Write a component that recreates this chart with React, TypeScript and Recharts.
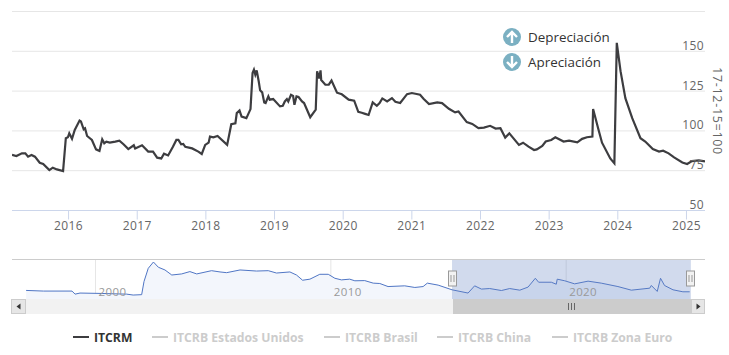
import React from "react";
import { ComposedChart, Line, Area, XAxis, YAxis, CartesianGrid, ReferenceArea } from "recharts";

const FONT = '"Open Sans", sans-serif';

const mainYears = [2015.176,2015.24,2015.32,2015.37,2015.41,2015.46,2015.51,2015.58,2015.63,2015.72,2015.77,2015.83,2015.92,2015.96,2015.99,2016.01,2016.05,2016.09,2016.16,2016.18,2016.22,2016.24,2016.27,2016.34,2016.4,2016.45,2016.49,2016.52,2016.55,2016.6,2016.68,2016.74,2016.8,2016.87,2016.95,2016.97,2017.07,2017.16,2017.23,2017.29,2017.35,2017.39,2017.45,2017.52,2017.57,2017.6,2017.64,2017.67,2017.7,2017.8,2017.89,2017.94,2017.99,2018.04,2018.06,2018.11,2018.17,2018.31,2018.37,2018.43,2018.45,2018.49,2018.52,2018.59,2018.65,2018.68,2018.7,2018.72,2018.74,2018.77,2018.79,2018.82,2018.85,2018.87,2018.91,2018.93,2018.98,2019.08,2019.12,2019.15,2019.18,2019.2,2019.24,2019.27,2019.29,2019.32,2019.35,2019.4,2019.43,2019.52,2019.6,2019.62,2019.65,2019.67,2019.68,2019.74,2019.79,2019.83,2019.91,2019.98,2020.08,2020.16,2020.22,2020.27,2020.32,2020.37,2020.43,2020.49,2020.53,2020.57,2020.64,2020.71,2020.76,2020.83,2020.93,2021,2021.12,2021.17,2021.25,2021.37,2021.44,2021.54,2021.63,2021.68,2021.8,2021.88,2021.97,2022.05,2022.14,2022.22,2022.29,2022.36,2022.42,2022.56,2022.62,2022.7,2022.78,2022.82,2022.9,2022.95,2023.03,2023.09,2023.21,2023.29,2023.41,2023.48,2023.55,2023.63,2023.64,2023.72,2023.77,2023.89,2023.95,2023.985,2024.04,2024.11,2024.21,2024.33,2024.4,2024.51,2024.6,2024.66,2024.74,2024.82,2024.94,2025.01,2025.08,2025.18,2025.27];
const mainValues = [84.9,84.2,85.9,85.9,83.8,84.9,83.8,80,79.2,75.4,76.9,75.8,74.8,95.4,96,98.5,95,100.6,106.5,105.9,101,101.6,96.8,94.3,88.4,87.4,94.7,92.2,93.2,92.6,93.3,93.9,91.6,88.6,91,89,91,87,87,83.2,82.7,85.7,84.6,90,94.3,94.3,91.6,91.8,90,89,87,85.5,91.2,92.6,96.4,96,96.8,91.2,104.2,104.8,111.2,112.8,109,108,113.7,136.4,138.5,135.3,138,131,125.5,124.2,117.9,117.5,121.7,119.6,120,115.4,115.8,118.5,120,118.5,122.7,122,116.4,121.7,121.3,118.5,117.5,108.6,113.3,137.5,133,138,132,129,129,131.6,124,123,119.6,119,112,111.4,110.7,110,117.9,115.8,117.5,120.4,118.5,120.6,118.3,117.5,123.1,123.8,122.7,120.2,116.8,117.9,117.5,113.9,111.6,112.2,105.5,104.4,101.7,102.1,103.2,101.5,101.7,95.8,98.5,91.2,92.6,90.1,88,88.4,90.5,93.3,94.3,96,93.3,93.9,92.8,95,96,96.4,113.7,100.6,92.6,82.7,79.6,155.3,137.5,120.6,108,95.4,93.3,88.6,87,87.6,85.9,83.4,80.2,79.2,81,81.5,80.8];

const mainYTicks = [50, 75, 100, 125, 150, 175];
const mainXTicks = [2016, 2017, 2018, 2019, 2020, 2021, 2022, 2023, 2024, 2025];

const navYears = [1997.05,1997.79,1999,1999.13,1999.34,2000.19,2001.32,2001.6,2001.96,2002.06,2002.24,2002.46,2002.67,2002.95,2003.24,2003.66,2004.01,2004.3,2004.93,2005.29,2005.57,2006.14,2006.84,2007.34,2007.69,2008.26,2008.54,2008.8,2009.11,2009.53,2009.89,2010.17,2010.45,2010.8,2011.02,2011.44,2011.8,2012.08,2012.43,2013.14,2013.57,2013.92,2014.1,2014.56,2015.15,2015.83,2016.11,2016.4,2016.75,2017.25,2017.6,2018.03,2018.38,2018.69,2018.83,2019.37,2019.58,2019.62,2019.94,2020.36,2020.93,2021.49,2022.2,2022.77,2023.55,2023.62,2023.87,2024.01,2024.18,2024.54,2024.96,2025.25];
const navValues = [84.5,81,81,64,70,68,64,59,61,134,207,242,213,198,170,176,189,176,194,187,183,198,192,194,181,187,170,141,147,174,174,152,143,147,138,139,125,123,106,110,101,106,125,114,88,70,110,92,95,84,95,86,103,152,130,130,119,147,138,121,136,125,106,86,97,112,79,152,112,88,77,77];
const navXTicks = [2000, 2010, 2020];
const selectedRange = [2015.15, 2025.3];

const legendNames = ["ITCRM", "ITCRB Estados Unidos", "ITCRB Brasil", "ITCRB China", "ITCRB Zona Euro"];
const legendLineX = [73, 152, 324, 437, 552];
const notes = ["Depreciación", "Apreciación"];
const yTitle = "17-12-15=100";

const mainData = mainYears.map((year, i) => ({ year, value: mainValues[i] }));
const navData = navYears.map((year, i) => ({ year, value: navValues[i] }));

const renderRightTick = (props: any) => {
  const { y, payload } = props;
  if (payload.value === 175) return <g />;
  return (
    <text x={704} y={y - 1.5} textAnchor="end" fontFamily={FONT} fontSize={12} fill="#666666" letterSpacing={0.4}>
      {payload.value}
    </text>
  );
};

const renderNavTick = (props: any) => {
  const { x, payload } = props;
  return (
    <text x={x + 3} y={295.5} fontFamily={FONT} fontSize={11.5} fill="#999999" letterSpacing={0.4}>
      {payload.value}
    </text>
  );
};

const Handle = ({ x }: { x: number }) => (
  <g>
    <rect x={x - 4} y={271} width={8} height={15} fill="#f2f2f2" stroke="#999999" />
    <path d={`M${x - 1.5} 275V282M${x + 1.5} 275V282`} stroke="#999999" fill="none" />
  </g>
);

const Note = ({ y, up, text }: { y: number; up: boolean; text: string }) => (
  <g>
    <circle cx={512} cy={y} r={9} fill="#7bb0c2" />
    <path
      d={up ? `M512 ${y + 6}V${y - 5}M507 ${y}L512 ${y - 5}L517 ${y}` : `M512 ${y - 6}V${y + 5}M507 ${y}L512 ${y + 5}L517 ${y}`}
      stroke="#ffffff"
      strokeWidth={2.4}
      fill="none"
    />
    <text x={528} y={y + 4.5} fontFamily={FONT} fontSize={13.4} fill="#333333">
      {text}
    </text>
  </g>
);

export default function App() {
  return (
    <div style={{ position: "absolute", left: 0, top: 0, width: 729, height: 355, background: "#ffffff", overflow: "hidden" }}>
      <div style={{ position: "absolute", left: 0, top: 0 }}>
        <ComposedChart width={729} height={250} data={mainData} margin={{ top: 11.5, right: 23, bottom: 0, left: 12 }}>
          <CartesianGrid horizontal vertical={false} stroke="#e6e6e6" />
          <XAxis
            dataKey="year"
            type="number"
            domain={[2015.176, 2025.27]}
            ticks={mainXTicks}
            height={39.5}
            interval={0}
            allowDataOverflow
            stroke="#ccd6eb"
            tickSize={9}
            tick={{ fill: "#666666", fontSize: 12, fontFamily: FONT, letterSpacing: 0.4 }}
            tickMargin={2}
          />
          <YAxis
            type="number"
            orientation="right"
            domain={[50, 175]}
            ticks={mainYTicks}
            width={1}
            axisLine={false}
            tickLine={false}
            tick={renderRightTick}
            interval={0}
            allowDataOverflow
          />
          <Line
            dataKey="value"
            type="linear"
            stroke="#3d3d40"
            strokeWidth={2.2}
            dot={false}
            isAnimationActive={false}
          />
        </ComposedChart>
      </div>

      <div style={{ position: "absolute", left: 0, top: 0 }}>
        <ComposedChart width={729} height={300} data={navData} margin={{ top: 259.5, right: 24, bottom: 0, left: 12 }}>
          <CartesianGrid horizontal={false} vertical stroke="#e6e6e6" verticalValues={navXTicks} />
          <XAxis
            dataKey="year"
            type="number"
            domain={[1996.45, 2025.9]}
            ticks={navXTicks}
            height={1}
            axisLine={false}
            tickLine={false}
            tick={renderNavTick}
            interval={0}
            allowDataOverflow
          />
          <YAxis type="number" domain={[37, 256]} hide allowDataOverflow />
          <Area
            dataKey="value"
            type="linear"
            stroke="#4f75c4"
            strokeWidth={1}
            fill="#f3f6fc"
            fillOpacity={1}
            dot={false}
            isAnimationActive={false}
          />
          <ReferenceArea
            x1={selectedRange[0]}
            x2={selectedRange[1]}
            fill="#6685c2"
            fillOpacity={0.3}
            stroke="none"
            ifOverflow="visible"
          />
        </ComposedChart>
      </div>

      <svg width={729} height={355} style={{ position: "absolute", left: 0, top: 0, pointerEvents: "none" }}>
        <Note y={37} up text={notes[0]} />
        <Note y={62} up={false} text={notes[1]} />
        <text
          transform="translate(713,111) rotate(90)"
          textAnchor="middle"
          fontFamily={FONT}
          fontSize={12.5}
          fill="#666666"
          letterSpacing={0.7}
        >
          {yTitle}
        </text>

        <line x1={12} x2={705} y1={259.5} y2={259.5} stroke="#cccccc" />
        <rect x={12} y={299} width={693} height={15} fill="#f2f2f2" />
        <rect x={453} y={299} width={238} height={15} fill="#cccccc" />
        <path d="M568.5 303V310M571.5 303V310M574.5 303V310" stroke="#666666" fill="none" />
        <rect x={11.5} y={299.5} width={14} height={14} fill="#e6e6e6" stroke="#cccccc" />
        <path d="M20.5 303.5L16.5 306.5L20.5 309.5Z" fill="#333333" />
        <rect x={691.5} y={299.5} width={13} height={14} fill="#e6e6e6" stroke="#cccccc" />
        <path d="M696.5 303.5L700.5 306.5L696.5 309.5Z" fill="#333333" />
        <Handle x={452.5} />
        <Handle x={690.5} />

        {legendNames.map((name, i) => (
          <g key={name}>
            <line
              x1={legendLineX[i]}
              x2={legendLineX[i] + 16}
              y1={337}
              y2={337}
              stroke={i === 0 ? "#3d3d40" : "#cccccc"}
              strokeWidth={2}
            />
            <text
              x={legendLineX[i] + 21}
              y={341.5}
              fontFamily={FONT}
              fontSize={12.2}
              fontWeight={700}
              fill={i === 0 ? "#333333" : "#cccccc"}
            >
              {name}
            </text>
          </g>
        ))}
      </svg>
    </div>
  );
}
